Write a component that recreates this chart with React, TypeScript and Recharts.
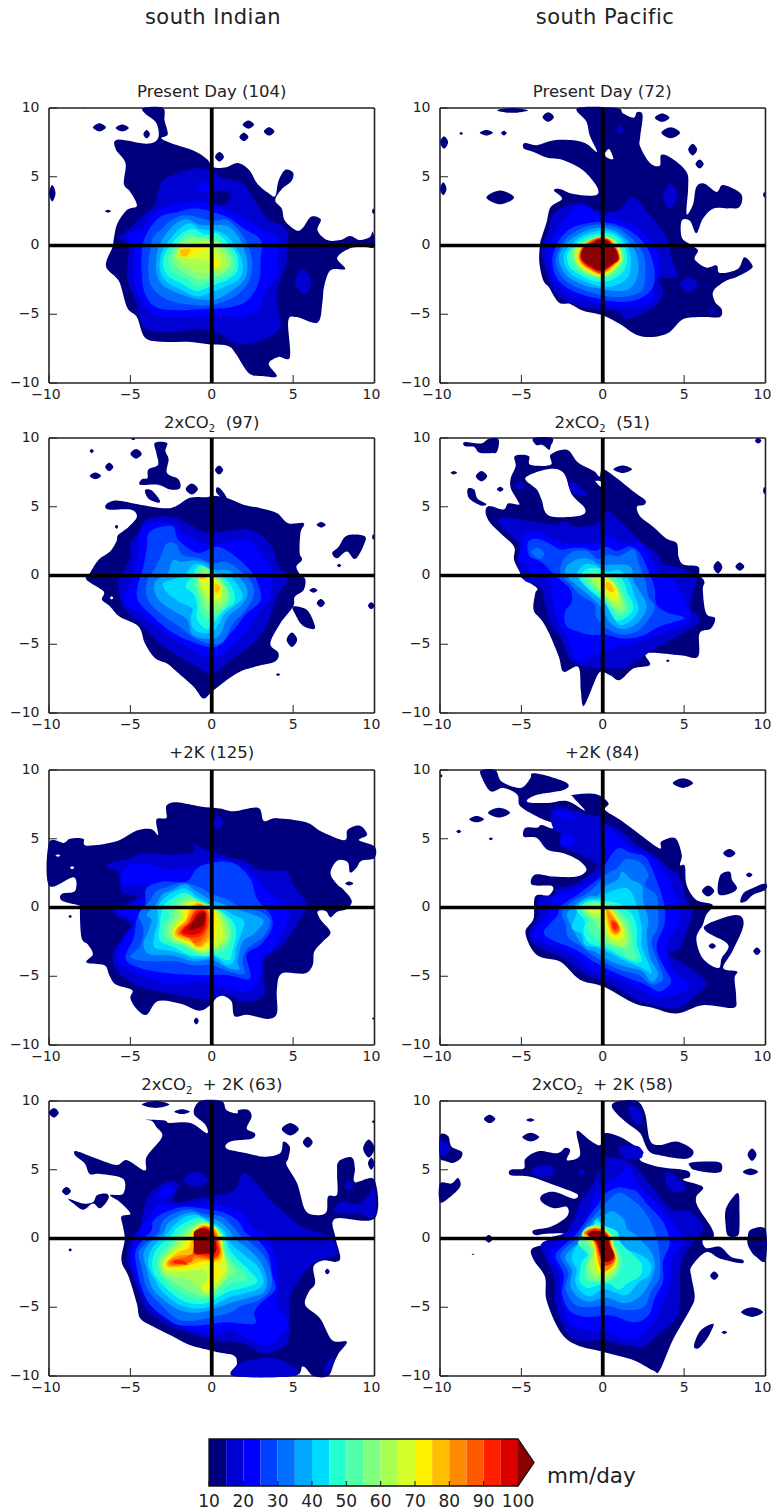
import { ComposedChart, ReferenceArea, Scatter, XAxis, YAxis } from 'recharts';

// one filled contour: [level, outline in storm-relative degrees]
type Contour = [number, number[][]];

// small blob given by its extent
const b = (level: number, x0: number, x1: number, y0: number, y1: number): Contour => [
  level,
  [[(x0 + x1) / 2, y0], [x1, (y0 + y1) / 2], [(x0 + x1) / 2, y1], [x0, (y0 + y1) / 2]],
];

const levels = [10, 15, 20, 25, 30, 35, 40, 45, 50, 55, 60, 65, 70, 75, 80, 85, 90, 95];
const levelColors = [
  '#00007f', '#0000d0', '#0000ff', '#0040ff', '#0070ff', '#00a8ff', '#00dcff', '#25ffd0', '#50ffa8',
  '#80ff80', '#a8ff50', '#d4ff2b', '#fff000', '#ffbf00', '#ff8c00', '#ff5a00', '#ff2000', '#d90000',
];
const overColor = '#8b0000';
const axisTicks = [-10, -5, 0, 5, 10];
const barTicks = [10, 20, 30, 40, 50, 60, 70, 80, 90, 100];
const crossX = [[-10, 0], [10, 0]];
const crossY = [[0, -10], [0, 10]];

const indianPresent: Contour[] = [
  [10, [[-4.2,10],[-3,10],[-2.9,9.1],[-2.7,8.1],[-3.1,7.8],[-2.4,7.4],[-1.1,6.9],[-0.3,6.3],[0.1,5.7],[0.9,5.7],[1.6,6],[2.3,5.5],[2.8,4.5],[3.5,3.8],[3.9,3.6],[4.1,4.7],[4.5,5.5],[5,5.3],[4.9,4.7],[4.3,4.1],[3.9,3.3],[4.3,2.7],[4.5,1.8],[5.2,1.1],[5.6,1.3],[6.1,2.1],[6.7,1.9],[6.5,1.1],[7.1,0.4],[7.9,0.4],[8.5,0.7],[9.1,0.4],[9.7,0.6],[9.9,1],[10,-0.1],[9.3,-0.1],[8.5,-0.2],[7.7,-0.9],[8.2,-1.7],[7.3,-1.8],[6.9,-3],[6.8,-4.1],[6.5,-5.6],[5.2,-5.2],[4.7,-5.5],[4.8,-8.1],[4.1,-8.1],[3.5,-8.6],[4,-9.5],[3.2,-9.5],[2.3,-9.3],[1.5,-7.9],[1,-7.3],[-0.1,-7.2],[-1.5,-7],[-3,-7],[-4.1,-6.7],[-4.6,-5.2],[-5.2,-4.5],[-5.7,-2.6],[-6.5,-1.5],[-6.1,-0.1],[-6,0.6],[-5.8,1.6],[-5.2,2.6],[-4.6,2.9],[-5,3.9],[-5.4,4.5],[-5.3,6],[-5.9,7],[-5.8,7.7],[-4,7.4],[-3.3,7.8],[-3.4,8.9],[-4.1,9.6]]],
  b(10,-7.3,-6.5,8.3,8.9), b(10,-5.9,-5.1,8.3,8.8), b(10,-4.2,-3.8,7.8,8.4), b(10,1.9,2.6,8.5,9.1), b(10,1.7,2.25,7.6,8.2), b(10,3.2,3.85,8,8.6), b(10,0.2,0.75,6.1,6.8), b(10,-10,-9.6,3.2,4.4), b(10,-6.55,-6.2,2.4,2.6), b(10,9.85,10,2.3,2.7), b(10,-8,-7.85,9.95,10),
  [15, [[-1.1,5.6],[-0.1,5.5],[0.7,4.9],[1.9,4.5],[3,2.6],[3.6,1.8],[4.6,1.1],[4.6,-1.1],[4.2,-2.6],[4,-4],[4.2,-6],[3.1,-6.9],[1.9,-7.2],[1.1,-6.9],[0.3,-6.3],[-0.9,-6.1],[-2.6,-6.3],[-4,-6.1],[-4.5,-5],[-4.7,-4],[-5.2,-2.3],[-5.1,-0.1],[-5.7,0.6],[-5,1.3],[-4.1,2.3],[-3.5,3],[-3.1,4.6],[-2.2,5.2]]],
  [10, [[0.2,3.9],[1,3.9],[1.1,3.3],[0.5,2.9],[0,3.2]]],
  [15, [[5.1,-2.6],[5.6,-1.7],[6.1,-2.6],[5.7,-3.6]]],
  b(20,-1,0,3.9,4.6),
  [20, [[-2.2,3],[-0.5,3.2],[0.9,2.6],[1.9,2.1],[3.2,1.1],[4,0.6],[4.1,-0.6],[3.9,-2.3],[3.2,-3.5],[3,-4.5],[1.9,-5.2],[0.3,-5.1],[-0.9,-5.2],[-2.4,-5.3],[-3.6,-5],[-4.4,-3.8],[-4.8,-2.3],[-4.8,-0.4],[-5.2,0.7],[-4.2,1.3],[-3.5,2.4]]],
  [25, [[-3,2.2],[-2.2,2.4],[-0.9,2.7],[0.9,2.1],[1.9,1.3],[3,0.4],[3,-1.1],[2.9,-2.6],[2.2,-4],[1.1,-4.5],[-0.3,-4.6],[-1.9,-4.7],[-3.4,-4.5],[-4.1,-3.5],[-4.3,-2.1],[-4.3,-0.4],[-4.1,0.6],[-3.6,1.6]]],
  [30, [[-3,1.3],[-2.4,1.9],[-1.5,2.2],[0,1.8],[0.9,1.9],[1.6,1.2],[2.2,0.1],[2.5,-1.3],[2.2,-2.8],[1.3,-3.8],[0.1,-4.3],[-1.3,-4.3],[-2.8,-3.9],[-3.7,-3],[-3.9,-1.8],[-3.8,-0.4],[-3.6,0.6]]],
  [35, [[-2.7,1],[-2.2,1.6],[-1.5,1.9],[-0.7,1.5],[0.2,1.5],[1,1.4],[1.6,0.7],[2,-0.3],[2.2,-1.4],[2,-2.5],[1.2,-3.3],[0.3,-3.9],[-0.8,-3.9],[-2,-3.5],[-3,-2.9],[-3.4,-2],[-3.4,-0.9],[-3.2,0.1]]],
  [40, [[-2.4,0.7],[-1.9,1.3],[-1.3,1.6],[-0.7,1.2],[0.2,1.1],[0.8,0.8],[1.3,0.2],[1.8,-0.9],[1.9,-1.8],[1.6,-2.5],[0.8,-3],[0,-3.4],[-0.9,-3.7],[-1.9,-3.2],[-2.8,-2.6],[-3.2,-1.7],[-3.1,-0.6],[-2.8,0.1]]],
  [45, [[-2.2,0.5],[-1.7,1],[-1.1,1.2],[-0.4,0.8],[0.3,0.9],[0.9,0.3],[1.5,-0.6],[1.6,-1.7],[1.1,-2.4],[0.3,-2.8],[-0.9,-3.3],[-1.8,-2.8],[-2.7,-2.2],[-3,-1.4],[-2.8,-0.4]]],
  [50, [[-2,0.3],[-1.4,0.9],[-0.8,0.6],[0.2,0.6],[0.8,0],[1.4,-0.9],[1.3,-1.9],[0.6,-2.4],[-0.3,-2.7],[-0.9,-3],[-1.6,-2.4],[-2.4,-1.9],[-2.7,-1],[-2.4,-0.2]]],
  [55, [[-1.9,0.2],[-1.2,0.6],[-0.3,0.5],[0.4,0.2],[1,-0.5],[1.2,-1.3],[0.7,-2],[0,-2.3],[-0.7,-2.5],[-1.5,-2.1],[-2.2,-1.5],[-2.4,-0.8]]],
  [60, [[-1.7,0.1],[-1,0.3],[-0.2,0.3],[0.4,-0.1],[0.9,-0.9],[0.8,-1.7],[0,-1.9],[-0.7,-2],[-1.4,-1.6],[-2.1,-1.1],[-2.2,-0.5]]],
  [65, [[-1.6,0],[-0.7,0.1],[-0.1,0.2],[0.3,-0.5],[0.6,-1.2],[0.2,-1.7],[-0.3,-1.1],[-1,-1],[-1.8,-0.9],[-2,-0.5]]],
  [70, [[-1.8,-0.1],[-1,-0.1],[-0.4,0.2],[-0.1,-0.1],[-1,-0.6],[-1.7,-0.9],[-2,-0.5]]],
  [70, [[0.1,-1.1],[0.5,-1.2],[0.3,-1.6],[0,-1.6]]],
  [75, [[-1.9,-0.3],[-1.3,-0.3],[-1.6,-0.8],[-1.9,-0.7]]],
  [75, [[-0.7,0.05],[-0.3,0.15],[-0.1,-0.05],[-0.5,-0.1]]],
];

const pacificPresent: Contour[] = [
  [10, [[-1.55,10],[0.85,10],[1.25,9.6],[1.9,9.3],[2.1,9.7],[2.45,9.5],[2.3,7.9],[2.3,7.2],[2.9,6],[3.5,5.8],[3.6,6.6],[4.3,6.3],[5.15,5.35],[5.25,4.25],[5.15,2.3],[5.55,3],[5.75,4.25],[6.25,4.5],[7,3.9],[7.4,4.4],[8.5,3.75],[8.4,2.8],[7.7,2.7],[6.8,2.7],[6.15,1.95],[5.75,0.9],[5.35,1.8],[4.85,1.8],[4.85,0.6],[5.35,0.1],[5.85,-0.35],[5.65,-1],[6.35,-1.6],[7,-1.45],[7.2,-2],[8.3,-1.7],[8.7,-0.85],[9.2,-1.45],[9,-1.8],[8.2,-2.3],[7.6,-2.55],[6.8,-3.3],[6.9,-4.1],[7.3,-4.6],[7.2,-5.2],[6.15,-5.2],[4.95,-5.35],[4.1,-6.3],[3.1,-6.65],[2.1,-6.5],[1.05,-5.7],[0.05,-5.1],[-1.2,-4.75],[-2,-4.25],[-2.7,-4.15],[-3.3,-3.05],[-3.65,-2.55],[-3.9,-1.2],[-3.85,0.1],[-3.75,0.6],[-3.45,1.7],[-3.2,2.8],[-2.5,3.4],[-3,4],[-2.6,4.1],[-1.8,3.75],[-0.45,3.65],[-0.35,4.25],[-1.2,5.45],[-2.4,6.2],[-3.45,6.4],[-4.25,6.8],[-4.85,7.05],[-4.8,7.45],[-4.05,7.3],[-3,7.65],[-1.8,7.65],[-1,7.4],[-0.35,6.8],[-0.8,8],[-1,9]]],
  [0, [[0.15,6.7],[0.4,7],[0.65,6.3],[0.25,6.4]]],
  b(10,-6.5,-4.6,9.65,10), b(10,-3.7,-3,9,9.7), b(10,3.2,4.1,9,9.6), b(10,3.6,4.75,7.8,8.6), b(10,5.25,5.8,6.55,7.4), b(10,5.7,6.2,5.6,6.25), b(10,-7.55,-6.75,8,8.4), b(10,-6.25,-5.9,8,8.35), b(10,-8.8,-8.6,8.05,8.25), b(10,-10,-9.5,7.05,7.95), b(10,-10,-9.6,3.65,4.6), b(10,-7.15,-5.45,3,4), b(10,9.85,10,3.5,3.9),
  b(15,3.7,4.6,2.7,4.5), b(15,0.85,1.25,8.1,8.7), b(15,4.75,5.85,-3.4,-2.3), b(15,6.5,6.9,-5,-4.6),
  [15, [[-2.7,2.65],[-1.4,3.15],[-0.55,2.65],[0.25,2.4],[1.05,2.65],[1.9,3.5],[2.7,2.45],[3.5,1.35],[4,0.35],[4.2,-0.85],[4.55,-2.3],[3.5,-2.4],[3.7,-3.5],[3.1,-4.5],[1.55,-5.35],[0.85,-4.75],[-0.35,-4.6],[-1.4,-4.4],[-2.4,-3.9],[-3.1,-3.05],[-3.55,-1.6],[-3.75,-0.1],[-3.3,1.1],[-3.2,1.8]]],
  [20, [[-2.8,1.1],[-2.2,2.05],[-1.4,2.9],[-0.35,2.3],[0.85,1.95],[1.9,1.45],[2.7,0.6],[3.3,-0.35],[3.5,-1.8],[3.1,-3],[3.1,-4],[1.9,-4.5],[0.45,-4.4],[-1,-4],[-2.2,-3.5],[-3,-2.55],[-3.3,-1.35],[-3.3,0.1]]],
  [25, [[-2.5,0.7],[-1.9,1.3],[-1,1.6],[-0.1,1.7],[0.9,1.5],[1.9,0.9],[2.6,0.1],[3,-0.9],[3.2,-2.1],[3,-3.2],[2.2,-3.9],[1.1,-4.1],[-0.1,-3.9],[-1.2,-3.6],[-2.3,-3],[-2.9,-2.2],[-3.1,-1.1],[-2.9,-0.1]]],
  [30, [[-2.4,0.3],[-1.7,1],[-0.9,1.4],[0,1.5],[0.9,1.3],[1.7,0.6],[2.3,-0.2],[2.6,-1.1],[2.6,-2.3],[2.4,-3.3],[1.4,-3.7],[0.3,-3.7],[-1,-3.3],[-2,-2.8],[-2.6,-2.1],[-2.9,-1]]],
  [35, [[-2.3,0.1],[-1.5,0.8],[-0.7,1.2],[0.1,1.3],[0.9,1],[1.5,0.4],[2,-0.4],[2.2,-1.3],[2.1,-2.4],[1.6,-3.2],[0.7,-3.3],[-0.3,-3.1],[-1.1,-2.9],[-2,-2.4],[-2.5,-1.7],[-2.7,-0.8]]],
  [40, [[-2.1,-0.1],[-1.4,0.6],[-0.6,1],[0.2,1.1],[0.9,0.8],[1.4,0.2],[1.7,-0.7],[1.7,-1.7],[1.5,-2.4],[0.8,-2.9],[0,-3],[-0.9,-2.7],[-1.8,-2.2],[-2.3,-1.5],[-2.4,-0.7]]],
  [45, [[-1.9,-0.1],[-1.2,0.5],[-0.5,0.8],[0.3,0.9],[0.9,0.6],[1.3,0],[1.5,-0.8],[1.4,-1.6],[1,-2.2],[0.3,-2.6],[-0.5,-2.6],[-1.3,-2.2],[-2,-1.6],[-2.2,-0.8]]],
  [50, [[-1.7,-0.1],[-1.1,0.4],[-0.4,0.7],[0.3,0.7],[0.8,0.4],[1.2,-0.2],[1.3,-1],[1.1,-1.7],[0.6,-2.2],[0,-2.4],[-0.7,-2.3],[-1.4,-1.9],[-1.9,-1.3],[-2,-0.6]]],
  [60, [[-1.6,-0.1],[-1,0.3],[-0.3,0.6],[0.3,0.6],[0.8,0.3],[1.1,-0.3],[1.2,-1],[0.9,-1.6],[0.4,-2.1],[-0.1,-2.3],[-0.8,-2.1],[-1.4,-1.7],[-1.7,-1.1],[-1.8,-0.5]]],
  [70, [[-1.4,-0.1],[-0.8,0.3],[-0.2,0.5],[0.4,0.5],[0.7,0.2],[1,-0.4],[1.1,-1],[0.8,-1.5],[0.3,-2],[-0.2,-2.2],[-0.8,-1.9],[-1.3,-1.5],[-1.6,-0.9]]],
  [80, [[-1.3,-0.1],[-0.8,0.35],[-0.2,0.6],[0.35,0.5],[0.7,0.15],[0.95,-0.4],[1.05,-1],[0.75,-1.4],[0.25,-1.9],[-0.2,-2.1],[-0.75,-1.8],[-1.25,-1.4],[-1.5,-0.85]]],
  [90, [[-1.2,-0.1],[-0.7,0.3],[-0.2,0.55],[0.3,0.45],[0.6,0.1],[0.9,-0.4],[1,-1],[0.7,-1.35],[0.2,-1.8],[-0.2,-2],[-0.7,-1.7],[-1.2,-1.3],[-1.4,-0.8]]],
  [100, [[-1.15,-0.1],[-0.6,0.2],[-0.2,0.45],[0.3,0.35],[0.55,0.05],[0.85,-0.4],[0.95,-1],[0.65,-1.3],[0.15,-1.7],[-0.2,-1.85],[-0.65,-1.6],[-1.15,-1.2],[-1.35,-0.7]]],
];

const indianCo2: Contour[] = [
  [10, [[-1.35,5.65],[-0.3,5.7],[0.1,5.8],[0.9,5.65],[1.95,5.15],[3,4.9],[4,4.55],[4.7,3.8],[5.65,3.8],[5.45,3.1],[5.4,1.65],[5.55,1.15],[5.2,0.65],[5.45,0.05],[5.75,-0.3],[5.65,-1.05],[5.1,-1.55],[5,-2.25],[4.2,-3.5],[3.6,-4.95],[4.1,-5.65],[3.9,-6.25],[2.75,-6.6],[1.55,-7.1],[0.1,-8.35],[-0.5,-8.95],[-1.1,-8.1],[-2.15,-7],[-2.75,-6.4],[-3.5,-6],[-4.1,-4.95],[-4.5,-3.7],[-5.65,-3],[-6.25,-2.25],[-6.75,-1.75],[-6.65,-1.15],[-7.7,-0.3],[-7.5,0.15],[-6.95,1.15],[-6.25,1.75],[-5.85,2.5],[-5.75,2.95],[-5.1,3.55],[-4.6,4.3],[-5,4.8],[-6.35,4.8],[-6.5,5.15],[-5.85,5.45],[-4.4,5.15],[-2.55,4.9]]],
  b(0,-6.25,-6.05,-1.75,-1.5),
  b(10,-7.5,-7.25,8.9,9.2), b(10,-5,-4.3,8.5,9.2), b(10,-6.55,-6.05,7.6,8.2), b(10,-7.5,-6.8,7,7.5), b(10,-4.95,-4.7,9.85,10),
  [10, [[-3.5,9.65],[-2.75,9.65],[-2.85,9.05],[-2.65,8.45],[-2.75,7.45],[-2.05,7],[-1.95,6.35],[-2.55,6.25],[-3.3,6.6],[-4.4,6.6],[-4.3,7],[-3.95,7.1],[-3.9,7.7],[-3.3,8.05],[-3.4,8.9]]],
  b(10,-1.6,-0.85,5.9,6.7),
  [10, [[-4.1,6.2],[-3.7,6.2],[-3.2,5.5],[-3.3,5.3],[-3.9,5.6]]],
  b(10,0.2,0.7,7.35,8),
  [10, [[0.3,6.4],[0.55,6.3],[0.9,5.7],[0.7,5.6],[0.3,6]]],
  b(10,-5.95,-5.75,3.4,3.7), b(10,6.45,7,3.5,3.9),
  [10, [[7.4,1.65],[7.8,2.1],[8.3,2.9],[9.4,2.85],[9.3,2.1],[8.8,1.2],[8.3,1.75],[7.7,1.25]]],
  b(10,9.85,10,2.6,3), b(10,7.7,7.95,0.6,0.85), b(10,6.45,6.95,-2.3,-1.7), b(10,6,6.5,-1.25,-0.9), b(10,9.6,10,-2.45,-1.95),
  [10, [[5,-2.25],[5.85,-2.5],[6.3,-3.5],[6.25,-3.9],[5.55,-3.6],[5.1,-2.75]]],
  b(10,4.6,5.25,-5.2,-4.15), b(10,3.95,4.2,-7.3,-7.1),
  [15, [[-4,4.05],[-2.55,4.3],[-1.35,3.7],[-0.3,3.1],[0.9,3.2],[2.35,3.35],[3.6,2.25],[4.1,0.65],[4.6,0.15],[4.6,-0.55],[4.1,-1.3],[3.4,-3.5],[2.55,-4.95],[1.15,-6.15],[0.1,-7.1],[-0.9,-6.65],[-2.15,-5.8],[-3.2,-4.95],[-4.2,-3.7],[-5.45,-2.25],[-5.75,-0.45],[-5.45,0.15],[-5,1.4],[-5,2.35],[-4.5,3.1]]],
  [20, [[-4.1,3.7],[-2.55,3.8],[-1.55,2.95],[-0.3,2.25],[1.15,2.5],[2.15,2.6],[3,1.65],[3.7,0.4],[3.6,-1.55],[3,-2.5],[2.35,-3.7],[1.15,-5.2],[0.1,-6],[-1.15,-5.4],[-2.55,-4.45],[-3.4,-3.7],[-4.4,-2.75],[-5.45,-1.8],[-4.9,-0.3],[-4.6,1.4],[-4.5,2.6]]],
  [25, [[-3.8,3.2],[-2.45,3.6],[-2.05,2.6],[-0.9,1.65],[0.3,2.1],[1.15,1.65],[2.15,0.65],[2.75,-0.3],[3,-1.8],[2.15,-2.75],[1.35,-3.95],[0.3,-5.2],[-0.9,-4.95],[-2.35,-4.2],[-3.6,-3],[-4.6,-1.55],[-4.2,0.65],[-4,1.9]]],
  [30, [[-3.5,0.5],[-3.1,1.5],[-2.8,2.3],[-2.2,2.3],[-1.8,1.5],[-0.9,1.3],[0.1,0.9],[0.9,1],[1.6,0.5],[2.4,-0.4],[2.6,-1.4],[2.1,-2.5],[1.3,-3.5],[0.7,-4.8],[0,-5],[-1,-4.6],[-2,-3.7],[-2.9,-3],[-3.9,-1.8],[-4,-0.5]]],
  [35, [[-2.7,0.2],[-2.4,1.1],[-1.8,1],[-1,1.1],[-0.3,0.9],[0.2,0.4],[1,0.4],[1.9,-0.4],[2.2,-1.3],[1.8,-2.2],[1,-3],[0.5,-4.3],[-0.2,-4.6],[-1.2,-4.3],[-1.5,-3.2],[-2.3,-2.6],[-3.3,-1.7],[-3.5,-0.5]]],
  [40, [[-1.7,0],[-1.1,0.8],[-0.4,0.7],[0.2,0.2],[1,0],[1.6,-0.7],[1.9,-1.6],[1.3,-2.3],[0.7,-2.9],[0.2,-3.9],[-0.4,-4.2],[-1.1,-3.9],[-1.3,-3.1],[-1.2,-2.4],[-2,-1.9],[-2.7,-1.3],[-3,-0.6],[-2.2,-0.2]]],
  [45, [[-1.2,0],[-0.8,0.7],[-0.2,0.5],[0.2,0],[0.9,-0.3],[1.3,-1],[1.4,-1.9],[0.8,-2.5],[0.2,-3.3],[-0.3,-3.9],[-0.9,-3.2],[-0.9,-2.2],[-1.1,-1.4],[-1.6,-0.8]]],
  [50, [[-1,0.1],[-0.6,0.6],[-0.1,0.4],[0.2,-0.1],[0.8,-0.6],[1.1,-1.4],[1,-2.1],[0.4,-2.8],[-0.2,-3.2],[-0.7,-2.6],[-0.8,-1.6],[-1.1,-0.6]]],
  [55, [[-0.8,0.1],[-0.4,0.5],[0,0.1],[0.6,-0.3],[1,-1.2],[0.9,-1.9],[0.4,-2.5],[-0.2,-2.6],[-0.6,-1.9],[-0.9,-0.8]]],
  [60, [[-0.7,0],[-0.3,0.3],[0.1,-0.1],[0.6,-0.5],[0.8,-1.4],[0.5,-2.1],[-0.1,-2.1],[-0.5,-1.4],[-0.8,-0.5]]],
  [65, [[-0.6,0],[-0.2,0.1],[0.3,-0.3],[0.6,-1.1],[0.5,-1.7],[0,-1.7],[-0.4,-1.2],[-0.7,-0.4]]],
  [70, [[-0.7,0],[-0.3,0.1],[-0.3,-0.3],[-0.7,-0.4]]],
  [70, [[0.2,-0.4],[0.5,-0.8],[0.5,-1.3],[0.2,-1.3]]],
  [75, [[0.2,-0.6],[0.5,-0.8],[0.4,-1.2],[0.2,-1.2]]],
  [75, [[-0.7,0],[-0.4,0.05],[-0.4,-0.2],[-0.7,-0.25]]],
];

const pacificCo2: Contour[] = [
  [10, [[0,7.75],[0.85,7.1],[1.9,6.1],[2.6,5.5],[2.55,5.15],[2.1,5],[2.3,4.3],[3.1,3.55],[3.9,2.7],[4.55,2.35],[4.65,1.4],[4.95,0.8],[5.85,0.65],[5.95,0.05],[6.25,-0.45],[6.15,-1.05],[6.35,-2.75],[6.9,-3.1],[6.65,-3.85],[5.95,-4.2],[5.85,-5.9],[4.75,-5.8],[2.7,-5.65],[2.9,-6.5],[1.9,-6.75],[1.05,-7.6],[0.45,-7.25],[-0.15,-7],[-0.55,-7.85],[-0.8,-8.6],[-1.2,-9.5],[-1.35,-8.35],[-1.5,-6.65],[-2.4,-7],[-2.7,-5.9],[-3.3,-4.2],[-3.75,-3.25],[-4.25,-2.5],[-4.15,-1.3],[-4.05,-0.9],[-4.95,-0.2],[-5.05,0.15],[-5.45,1.15],[-5.45,2.1],[-6.3,3.1],[-6.9,3.8],[-7.2,4.55],[-7,5.05],[-6.1,4.8],[-5.8,5.25],[-5.15,5.15],[-5.25,5.5],[-5.65,6.35],[-5.65,7.1],[-5.35,7.95],[-5.4,8.7],[-4.55,8.7],[-4.45,8.05],[-3.2,8.05],[-3.2,8.8],[-2.2,9.15],[-1.5,8.2],[-0.55,7.6],[-0.2,7.2]]],
  [0, [[-4.75,7.1],[-3.3,7.75],[-2.4,7.45],[-1.9,5.9],[-1.1,4.9],[-1.4,4.35],[-3.3,4.35],[-3.75,5.5],[-4.05,6.25]]],
  [0, [[-0.45,6.85],[-0.05,6.4],[-0.05,6.8]]],
  [10, [[-8.5,9.7],[-7.5,9.6],[-7,9.95],[-6.4,9.9],[-6.5,9],[-6.9,8.9],[-7.6,8.95],[-7.9,9.35],[-8.45,9.4]]],
  [10, [[-4.25,10],[-3.1,10],[-3.2,9.4],[-3.3,9.15],[-3.7,9.5],[-4.1,9.5]]],
  b(10,-9.35,-8.95,7.35,7.6), b(10,-7.8,-7.1,6.85,7.6), b(10,-6.5,-6.1,6.1,6.45),
  [10, [[-8.3,6.3],[-7.9,6.25],[-7.7,5.6],[-7.15,5.2],[-7.5,5.1],[-8.2,5.6]]],
  b(10,0.65,1.8,7.45,8), b(10,9.35,9.75,9.6,10), b(10,9.85,10,5.9,6.45), b(10,6.8,7.35,0.15,1.05), b(10,8.15,8.7,0.35,0.95), b(10,3.9,4.1,-6.3,-6.1),
  b(15,-5.35,-4.85,6.25,6.85),
  [15, [[-2.1,6.7],[-1.6,6.7],[-0.9,5.9],[-1.3,5.8],[-1.9,6.1]]],
  [15, [[-6.4,3.8],[-6.1,4.2],[-4.45,3.95],[-3,3.7],[-2.4,3.95],[-1.6,3.55],[-0.35,3.8],[0.25,4.65],[1.05,3.95],[2.3,2.5],[3.3,1.65],[3.7,0.9],[5.15,0.4],[5.75,-0.2],[5.45,-1.75],[5.45,-2.5],[5.95,-3],[5.75,-3.6],[4.55,-4.45],[3.1,-5.4],[1.45,-6.65],[0.25,-6.75],[-1,-6.65],[-2,-6.15],[-2.6,-4.45],[-3.2,-3.5],[-3.55,-2],[-3.85,-0.8],[-4.85,-0.3],[-5.25,1.15],[-5.05,2.1],[-5.65,2.95]]],
  [20, [[-4.85,2.95],[-4.05,3.2],[-3,2.6],[-2,2.35],[-0.55,2.35],[0.25,2.95],[1.25,2.35],[2.1,2.5],[2.7,1.85],[3.5,0.15],[4.35,-0.3],[5.15,-2],[5.35,-3.25],[4.3,-3.85],[3.1,-4.45],[1.9,-4.95],[0.25,-5.4],[-0.8,-6],[-1.6,-6.15],[-2.2,-4.45],[-2.8,-3.25],[-3.1,-1.8],[-3.3,-0.3],[-4.25,0.15],[-5.05,1.15],[-5.05,2.1]]],
  [25, [[-4.6,2.4],[-4.1,2.7],[-3.4,2.4],[-2.6,1.9],[-1.9,2],[-1.2,2],[-0.5,1.8],[0.2,2.1],[0.9,1.8],[1.7,2.1],[2.3,1.6],[2.9,0.1],[3.2,-1],[3.3,-2.1],[4,-2.7],[5,-3.1],[3.5,-3.7],[2.4,-4.4],[1.3,-4.6],[0.2,-4.3],[-0.8,-4.3],[-2.2,-3.7],[-2.3,-2.6],[-1.9,-1.9],[-2,-1],[-2.6,-0.3],[-3,0.1],[-3.8,1],[-4.5,1.4]]],
  [30, [[-4.4,1.7],[-4,2],[-3.6,1.6],[-3.9,1.2]]],
  [30, [[-2.6,0.1],[-2.5,1],[-1.9,1.7],[-1,1.8],[-0.3,1.2],[0.3,1.5],[1,1.4],[1.9,1.9],[2.2,0.9],[2.6,-0.3],[2.8,-1.5],[3.2,-2.3],[2.8,-3.2],[2.2,-4],[1.3,-4.3],[0.3,-3.9],[-0.4,-3],[-0.5,-2.1],[-1.4,-1.4],[-2.1,-0.5]]],
  [35, [[-2.3,0.1],[-2.2,0.7],[-1.5,1.2],[-0.8,1.2],[-0.2,0.8],[0.5,0.8],[1.3,0.8],[1.8,0.5],[1.9,-0.4],[2.4,-1.4],[2.7,-2.3],[2.2,-3.4],[1.3,-3.9],[0.5,-3.5],[0,-2.5],[-0.4,-1.9],[-1.2,-1.1],[-1.8,-0.5]]],
  [40, [[-1.6,0],[-1.1,0.8],[-0.4,0.7],[0.2,0.3],[1,0.4],[1.6,-0.3],[1.9,-1.3],[2.2,-2.4],[1.8,-3.2],[1.1,-3.6],[0.6,-3],[0.2,-2.1],[-0.3,-1.6],[-0.9,-1]]],
  [45, [[-1.4,-0.1],[-0.9,0.5],[-0.2,0.5],[0.2,0.1],[0.9,0.1],[1.3,-0.5],[1.5,-1.2],[1.9,-2.3],[1.5,-3],[0.9,-3.3],[0.5,-2.7],[0.1,-1.9],[-0.4,-1.4],[-1,-0.8]]],
  [50, [[-1.2,-0.2],[-0.6,0.3],[0.1,0],[0.7,-0.1],[1.1,-0.8],[1.4,-1.7],[1.6,-2.4],[1.2,-2.9],[0.8,-2.8],[0.3,-2],[-0.3,-1.3],[-0.8,-0.7]]],
  [55, [[-0.9,-0.2],[-0.3,0.1],[0.3,-0.2],[0.8,-0.7],[1.1,-1.5],[1.4,-2.3],[1.1,-2.7],[0.6,-2.3],[0.2,-1.7],[-0.3,-1]]],
  [60, [[-0.7,-0.3],[-0.1,-0.1],[0.4,-0.2],[0.9,-0.9],[1.2,-1.9],[0.9,-2.3],[0.5,-1.9],[0,-1.4],[-0.3,-0.9]]],
  [65, [[-0.2,-0.2],[0.3,-0.2],[0.8,-0.8],[1,-1.6],[0.7,-1.9],[0.3,-1.6],[-0.1,-1]]],
  [70, [[0.1,-0.4],[0.5,-0.5],[0.8,-1],[0.8,-1.4],[0.5,-1.4],[0.2,-1]]],
  [75, [[0.2,-0.5],[0.5,-0.6],[0.7,-1.1],[0.5,-1.2],[0.2,-0.9]]],
];

const indianWarm: Contour[] = [
  [10, [[-2.75,7.45],[-2.15,7.65],[-0.7,7.35],[0.5,7.2],[1.35,7],[2.85,7.25],[3.2,6.3],[4,6.5],[5.8,6.2],[6.7,5.55],[8.15,4.9],[8.35,5.65],[9.1,5.95],[9.55,5.3],[9.05,4.9],[10,4.45],[10,3.6],[9.2,3.4],[8.9,2.9],[8.5,2.55],[8.35,3.3],[7.7,3.4],[7.3,2.5],[7.7,1.7],[8.1,1.3],[8.6,0.5],[8.3,-0.1],[7.7,-0.3],[7.3,-0.7],[7,-0.25],[6.5,-0.3],[6.7,-0.9],[7.3,-1.8],[6.8,-2.5],[6.3,-3.2],[6.2,-4.2],[5.7,-4.8],[4.3,-4.8],[4,-6],[4,-7.7],[3.4,-8.1],[2.2,-7.8],[1.4,-7.9],[1.2,-6.8],[0.5,-6.4],[-0.1,-7.1],[-0.8,-7.5],[-1.9,-7],[-3.3,-6.8],[-4,-7.8],[-4.6,-7.4],[-5,-6.6],[-4.9,-6],[-5.9,-5.6],[-6.3,-4.9],[-6.6,-4.2],[-7.7,-4],[-7.3,-3.4],[-7.6,-2.7],[-8,-2.2],[-8.1,-0.2],[-8,0.1],[-9.2,0.5],[-9.2,1],[-8.4,1.2],[-8.5,2.2],[-10,1.6],[-10,4.7],[-9.1,4.7],[-8.7,5],[-7.9,5],[-7.7,4.5],[-5.9,4.8],[-4.6,5.6],[-3.7,5.7],[-3.3,5.3],[-3.4,6.4],[-2.8,6.5],[-2.8,7]]],
  b(0,-9.6,-9.3,3.7,3.85), b(0,-8.7,-8.45,2.8,3),
  b(10,8.2,8.7,1.6,1.9), b(10,-1.1,-0.8,-8.5,-8), b(10,-8.8,-8.6,-0.75,-0.55), b(10,9.85,10,-8.15,-8),
  [15, [[-6.45,3.1],[-5,3.6],[-4.2,3.95],[-2.55,3.85],[-1.1,4.05],[-1.1,4.6],[-0.3,4.2],[1.15,3.6],[2.15,3.35],[3,2.75],[4.6,2.6],[5,1.65],[5.85,0.2],[5.45,-0.8],[4.4,-2.7],[3.2,-3.95],[3.2,-6.35],[1.95,-6.85],[0.9,-6.35],[-0.1,-6.7],[-1.1,-6.6],[-2.55,-6.25],[-4.2,-5.85],[-5,-5.4],[-5.95,-4.4],[-5.95,-2.95],[-4.8,-1.5],[-6.05,-0.3],[-4.6,0.7],[-5.55,1.15],[-5.65,2.4]]],
  b(15,0.1,0.7,5.65,6.7),
  [20, [[-5,3.1],[-4.2,3.2],[-3.3,3],[-2.55,2.75],[-0.9,3],[0.3,3.6],[1.55,3.2],[2.75,2.15],[3.7,0.9],[4.7,-0.05],[4.6,-1.25],[3.8,-2.95],[3.05,-3.7],[3,-4.9],[2.35,-6.1],[0.9,-5.85],[-0.9,-5.4],[-2.55,-5.6],[-4,-5.1],[-5.2,-4.4],[-5.85,-3.7],[-5.45,-2.2],[-4.8,-1],[-5.65,-0.3],[-4.2,0.7],[-4,1.65],[-5.45,1.65],[-5.55,2.4]]],
  [25, [[-4,1.4],[-3,1.9],[-1.55,1.9],[-0.7,3],[1.15,3.3],[2.35,2.15],[2.75,0.7],[3.6,-0.5],[3.7,-1.5],[3,-2.7],[2.15,-3.45],[2.35,-5.15],[0.9,-4.9],[-0.9,-4.9],[-2.55,-4.8],[-4.4,-4.4],[-5.3,-3.7],[-4.8,-2.2],[-4.6,-0.8],[-4.1,0.2]]],
  [30, [[-3.8,0.5],[-3.4,1.2],[-2.7,1.5],[-1.8,1.8],[-0.8,1.5],[0,1],[0.9,0.6],[1.7,0.1],[3,-0.3],[3.6,-1],[3.2,-2.1],[2.2,-3],[1.9,-3.9],[2,-4.8],[1.2,-4.7],[0,-4.2],[-1.1,-4.2],[-2.3,-3.9],[-4,-3.9],[-5,-3.6],[-4.4,-2.8],[-4.2,-1.5],[-4.5,-0.6],[-4.2,0]]],
  [35, [[-3.4,0.3],[-3,1],[-2.4,1.3],[-1.6,1.7],[-1,1.2],[-0.1,0.6],[0.6,0.3],[1.5,-0.1],[2.5,-0.5],[3.2,-1],[2.6,-1.9],[1.9,-2.5],[1.6,-3.9],[1.7,-4.5],[1,-4.4],[0,-3.8],[-1.1,-3.9],[-2.4,-3.5],[-3.8,-3.4],[-4.2,-2.7],[-3.9,-1.7],[-3.7,-0.9],[-4,-0.5]]],
  [40, [[-3.3,0.1],[-2.7,0.9],[-1.7,1.4],[-0.9,0.8],[-0.2,0.3],[0.5,0],[1.3,-0.5],[2,-1],[1.8,-1.9],[1.5,-2.9],[1.4,-3.8],[0.9,-4.2],[0.2,-3.6],[-1,-3.7],[-2.3,-3.2],[-3.5,-2.9],[-3.5,-1.9],[-3.3,-1]]],
  [45, [[-3,0],[-2.4,0.7],[-1.6,1.1],[-0.9,0.6],[-0.1,0.2],[0.5,-0.2],[1.3,-1],[1.5,-1.9],[1.3,-3],[1.1,-3.8],[0.6,-3.7],[0,-3.4],[-1.2,-3.5],[-2.3,-2.9],[-3.2,-2.4],[-3.2,-1.4]]],
  [50, [[-2.7,-0.1],[-2.2,0.5],[-1.5,0.9],[-0.8,0.5],[-0.1,0.1],[0.4,-0.2],[1.1,-1],[1.2,-2],[0.9,-3],[0.2,-3.4],[-0.7,-3.5],[-1.8,-2.8],[-2.8,-2.4],[-3,-1.4],[-2.6,-0.7]]],
  [55, [[-2.3,-0.1],[-1.5,0.7],[-0.8,0.4],[-0.1,0],[0.4,-0.2],[0.9,-1],[1.1,-2.1],[0.7,-2.8],[0.1,-3.1],[-0.7,-3.3],[-1.6,-2.8],[-2.6,-2.3],[-2.7,-1.4],[-2.3,-0.6]]],
  [60, [[-2.1,-0.1],[-1.4,0.5],[-0.7,0.3],[0,-0.1],[0.4,-0.3],[0.7,-1],[0.9,-2.1],[0.5,-2.8],[0,-3.1],[-0.7,-3.2],[-1.5,-2.7],[-2.4,-2.2],[-2.5,-1.5],[-2,-0.6]]],
  [65, [[-1.9,-0.1],[-1.2,0.4],[-0.5,0.2],[0.1,-0.2],[0.4,-0.6],[0.6,-1.3],[0.7,-2.1],[0.4,-2.6],[-0.1,-3],[-0.7,-3.1],[-1.4,-2.7],[-2.3,-2.1],[-2.3,-1.5],[-1.8,-0.6]]],
  [70, [[-1.5,0],[-1,0.4],[-0.4,0.2],[0.1,-0.2],[0.3,-0.7],[0.3,-1.5],[0.1,-2.4],[-0.3,-2.8],[-0.9,-3],[-1.3,-2.6],[-2.2,-2.2],[-2.3,-1.6],[-1.8,-0.9]]],
  [75, [[-1.3,0],[-0.9,0.35],[-0.4,0.15],[-0.1,-0.2],[0.1,-1],[0,-2],[-0.4,-2.7],[-0.9,-2.9],[-1.3,-2.5],[-2.2,-2.1],[-2.2,-1.6],[-1.6,-0.9]]],
  [80, [[-1.2,-0.1],[-0.8,0.25],[-0.4,0.1],[-0.2,-0.3],[-0.1,-1.2],[-0.3,-2.3],[-0.9,-2.8],[-1.4,-2.3],[-2.1,-2],[-2.1,-1.5],[-1.6,-1]]],
  [85, [[-1.1,-0.3],[-0.9,0.1],[-0.5,0.1],[-0.2,-0.4],[-0.2,-1.3],[-0.5,-2.2],[-1,-2.6],[-1.4,-2.2],[-2,-1.9],[-1.9,-1.5],[-1.5,-1.1]]],
  [90, [[-1.1,-0.4],[-0.7,-0.1],[-0.3,-0.4],[-0.3,-1.3],[-0.6,-2],[-1.2,-2.2],[-1.9,-1.9],[-1.7,-1.4],[-1.4,-1.1]]],
  [95, [[-0.9,-0.4],[-0.4,-0.3],[-0.4,-1.3],[-0.7,-1.8],[-1.2,-2],[-1.8,-1.8],[-1.5,-1.3],[-1.2,-1]]],
  [100, [[-0.8,-0.5],[-0.4,-0.4],[-0.5,-1.2],[-0.9,-1.5],[-1.4,-1.6],[-1.2,-1.1]]],
];

const pacificWarm: Contour[] = [
  [10, [[-1.8,8.2],[-0.45,8.25],[0.35,7.6],[0.15,7.1],[1.05,6.4],[2.3,5.3],[3.5,4.3],[3.6,4.8],[4.45,5.05],[4.85,3.85],[4.75,3.1],[5.05,3],[5.15,1.65],[5.75,0.55],[6.75,0.2],[6.35,-0.55],[6.15,-1.25],[5.75,-2.25],[6.15,-3.7],[7.1,-4.4],[7.3,-3.7],[7.7,-2.7],[6.35,-1.75],[6.45,-1.2],[8.2,-0.55],[8.65,-1.25],[8,-3.1],[7.4,-4.4],[8.25,-4.65],[8.1,-5.15],[8.2,-6.6],[8,-7.3],[6.15,-7.1],[4.55,-7.7],[3.1,-7.3],[1.9,-6.95],[0.05,-5.75],[-1.4,-5.25],[-2.6,-3.95],[-4.05,-3.45],[-4.75,-1.85],[-4.25,-0.8],[-4.15,0.8],[-3.3,0.9],[-3.1,1.55],[-4.35,1.65],[-4.15,2.4],[-3,2.25],[-1.6,2.25],[-1,2.75],[-1.5,3.45],[-2.4,3.95],[-3.4,4.2],[-4.05,5.05],[-4.85,5.15],[-4.75,5.8],[-4.05,5.8],[-3.75,6],[-3.1,5.75],[-3,6.1],[-3.75,6.45],[-5.05,7.35],[-5.25,8.2],[-6.1,8.7],[-6.9,8.45],[-7.5,9.65],[-7.4,10],[-6.6,10],[-6.2,9.15],[-5.05,8.7],[-4.45,9.4],[-4.35,9.75],[-3.65,9.65],[-2.2,9.05],[-2.4,8.55],[-4.05,8.2],[-4.65,7.7],[-3.45,7.6],[-2.2,7.75],[-1.1,7.05],[-1.8,8]]],
  b(10,-7.05,-5.7,6.55,7.25), b(10,-8.2,-7.3,6.2,6.65), b(10,-9,-8.7,5.4,5.65), b(10,-7,-6.75,4.9,5.1), b(10,4.3,5.55,8.7,9.4), b(10,-10,-9.85,9.45,9.7), b(10,7.4,8.15,3.65,4.25), b(10,8.8,9.2,2.2,2.55),
  [10, [[7.1,1],[7.2,2.3],[7.8,2.6],[7.95,2],[8.25,1.4],[7.8,1]]],
  b(10,6.1,6.85,0.8,1.6),
  [10, [[8.45,0.4],[8.65,1.05],[9.2,1.4],[10,1.75],[10,1.3],[9.2,0.9],[8.8,0.45]]],
  b(10,9.25,9.7,-3.45,-2.9), b(10,6.5,6.95,-3,-2.6),
  [15, [[-3.2,6.6],[-2.8,7.35],[-1.2,6.85],[0,6.5],[0.15,6.15],[1.05,5.65],[2.1,4.55],[3.3,3.7],[4.1,2.85],[4.65,2.4],[4.95,1.4],[5.15,0.45],[5.55,-0.3],[5.15,-1.75],[4.75,-2.95],[4.1,-3.45],[5.35,-4.4],[6.35,-5.5],[5.55,-6.6],[4.55,-7.3],[3.1,-7.1],[1.9,-6.6],[0.25,-5.4],[-1,-4.9],[-2.4,-3.7],[-3.85,-2.95],[-4.55,-2],[-3.95,-0.55],[-3.95,0.7],[-3,0.9],[-2.8,1.4],[-1.8,1.65],[-0.8,2.4],[-0.35,3.1],[-1.6,3.95],[-2.6,4.55],[-2.6,5.3],[-3,5.7]]],
  [20, [[-2.45,5.3],[-1.9,5.3],[-1.7,4.7],[-2.2,4.4],[-2.6,4.7]]],
  [20, [[-3.1,7],[-2.4,7],[-1.6,6.6],[-2.2,6.4]]],
  [20, [[0.15,6],[0.85,5.3],[1.9,4.3],[3.1,3.6],[3.9,2.4],[4.35,1.4],[4.55,0.45],[4.75,-1],[3.9,-2.95],[4.35,-4.65],[5.15,-5.4],[5.15,-6],[3.5,-6.6],[2.1,-5.85],[0.85,-5.15],[-0.55,-4.65],[-2.2,-3.2],[-3.85,-2.45],[-4.25,-1.85],[-3.45,-0.55],[-3,0.7],[-1.6,1.4],[-0.15,2.4],[0.15,3.85],[-0.05,5.05]]],
  [25, [[0.2,3.2],[0.9,4.3],[1.7,4],[2.6,3.7],[3,2.9],[3.3,2],[3.6,1],[3.8,0],[3.8,-1.2],[3.3,-2.9],[3.8,-4.4],[4.2,-5.4],[3.5,-6.1],[2.6,-5.6],[1.7,-5.2],[0.5,-4.6],[-0.6,-3.9],[-1.6,-3.1],[-3.2,-2.3],[-3.6,-1.7],[-2.8,-0.6],[-2.6,0.1],[-1.6,0.9],[-0.8,1.6],[0,2.4]]],
  [30, [[0.2,2.4],[0.9,2.9],[1.4,3.5],[2.3,3.3],[2.8,2.4],[2.6,1.6],[3.3,0.9],[3.4,-0.2],[3.4,-1.4],[3,-2.5],[3.4,-4],[3.7,-5.2],[3,-5.6],[2.2,-4.9],[1.2,-4.6],[0.3,-4.1],[-0.6,-3.5],[-1.2,-2.9],[-2.1,-2.2],[-2.3,-1.2],[-2.5,-0.3],[-1.9,0.4],[-1,1],[-0.4,1.6]]],
  [35, [[0.2,1.6],[0.9,2],[1.2,2.6],[1.8,2],[2.4,1.6],[2.5,0.4],[2.8,-0.9],[2.7,-2],[2.9,-3.6],[3.4,-4.8],[3,-5.4],[2.4,-4.6],[1.4,-4.3],[0.3,-3.8],[-0.5,-3.2],[-1,-3],[-1.5,-2.3],[-1.9,-1.4],[-2.2,-0.5],[-1.7,0.2],[-0.9,0.8],[-0.3,0.9]]],
  [40, [[0.2,1],[0.8,1.3],[1.5,1.4],[1.9,0.8],[2.2,-0.4],[2.4,-1.5],[2.4,-2.8],[2.8,-4],[3,-4.8],[2.4,-4.4],[1.4,-3.9],[0.4,-3.3],[-0.4,-2.9],[-1.1,-2.7],[-1.3,-1.9],[-1.9,-1.5],[-1.6,-0.4],[-1.6,0.1],[-0.9,0.6],[-0.2,0.7]]],
  [45, [[0,0.5],[0.7,0.4],[1.3,0.1],[1.9,-0.7],[2.1,-1.6],[2.1,-2.7],[2.4,-3.8],[2,-4],[1.2,-3.6],[0.3,-3],[-0.3,-2.8],[-0.9,-2.5],[-1.2,-1.7],[-1.1,-1],[-1.6,-0.2],[-1.3,0.2],[-0.7,0.5]]],
  [50, [[-1.4,-0.1],[-0.9,0.4],[-0.2,0.4],[0.5,0.2],[1.1,-0.3],[1.6,-1],[1.8,-1.9],[1.9,-2.9],[2.1,-3.7],[1.6,-3.7],[0.9,-3.1],[0.2,-2.7],[-0.5,-2.2],[-0.9,-1.4],[-0.9,-0.8]]],
  [55, [[-1.2,-0.1],[-0.7,0.3],[0,0.3],[0.6,0],[1.1,-0.6],[1.5,-1.3],[1.6,-2.3],[1.5,-3],[0.9,-2.8],[0.2,-2.5],[-0.2,-1.7],[-0.5,-1],[-0.9,-0.6]]],
  [60, [[-1.1,-0.1],[-0.5,0.2],[0.1,0.2],[0.6,-0.2],[1,-0.8],[1.4,-1.5],[1.5,-2.4],[1,-2.8],[0.3,-2.3],[0.1,-1.5],[-0.2,-0.8],[-0.8,-0.5]]],
  [65, [[-0.9,-0.1],[-0.3,0.1],[0.3,0],[0.8,-0.7],[1.2,-1.4],[1.3,-2.2],[0.8,-2.5],[0.3,-2],[0.1,-1.1],[-0.2,-0.5],[-0.7,-0.4]]],
  [70, [[0.1,-0.1],[0.6,-0.3],[1,-1.1],[1.2,-1.8],[0.9,-2.2],[0.4,-1.9],[0.2,-1.1],[0.1,-0.5]]],
  [75, [[0.2,-0.1],[0.5,-0.3],[0.9,-1],[1.1,-1.7],[0.8,-2],[0.5,-1.8],[0.3,-1.1]]],
  [80, [[0.25,-0.2],[0.5,-0.5],[0.9,-1.1],[1.1,-1.6],[0.8,-1.9],[0.55,-1.7],[0.4,-1.1]]],
  [85, [[0.5,-0.9],[0.9,-1.1],[1,-1.6],[0.8,-1.8],[0.55,-1.5]]],
  [90, [[0.6,-1],[0.85,-1.2],[0.9,-1.5],[0.7,-1.6],[0.6,-1.4]]],
];

const indianBoth: Contour[] = [
  [10, [[-0.7,10],[0.6,10],[0.9,9.35],[1.55,9.1],[1.65,9.35],[2.25,9.35],[2.45,8.85],[2.15,8],[2.65,7.65],[2.45,7.25],[1.15,7.05],[0.9,6.55],[2.15,6.2],[3.2,5.95],[4.2,6.2],[4.4,7.05],[4.8,6.65],[4.7,5.8],[4.6,5.35],[5.25,4],[5.75,2.05],[6.5,1.7],[7.05,1.95],[7.15,3.05],[7.7,3.2],[7.7,4.75],[7.8,5.6],[8.6,5.9],[8.8,5.1],[8.8,4.1],[10,4.25],[10,1.45],[7.6,1.45],[7.6,0.1],[7.9,-1.35],[7.6,-1.7],[6.85,-1.6],[6.25,-2.05],[6.35,-3.25],[5.95,-3.9],[5.75,-4.85],[6.65,-5.8],[7.4,-7.4],[8.3,-7.5],[7.8,-8.35],[7.5,-9.1],[7.15,-10],[6.25,-10],[5.6,-9.3],[5,-10],[1.35,-10],[1.55,-9.1],[1.35,-8.5],[0.3,-8.25],[-1.35,-7.75],[-2.35,-7.15],[-3.6,-6.4],[-4.4,-5.8],[-4.6,-4.75],[-5.1,-2.8],[-5.55,-1.6],[-5.35,-0.1],[-5.45,0.85],[-5.55,1.6],[-5,1.8],[-5.65,2.65],[-6.25,3.15],[-5.45,3.25],[-5.45,4.35],[-6.85,4.7],[-7.5,4.7],[-7.8,5.45],[-8.4,6.05],[-8.3,6.35],[-7.05,5.8],[-5.85,5.35],[-5.2,5.7],[-4.1,4.95],[-4,5.95],[-3.05,7.4],[-3.4,8.1],[-3.8,8.6],[-5,8.7],[-3,8.6],[-2.6,8.4],[-1.3,8.4],[-0.3,7.65],[-0.4,8.3],[-1.1,9.1]]],
  b(10,-4.3,-2.6,9.5,10), b(10,-2.3,-1.35,9.05,9.4), b(10,-10,-9.4,8.8,9.5), b(10,4.3,5.35,7.5,8.4), b(10,5.6,6.2,6.6,7.4), b(10,9.3,10,5.9,7.2), b(10,9.6,10,5,5.9), b(10,9.85,10,8.4,8.6), b(10,-9.2,-8.65,3.15,3.75), b(10,-8.8,-8.6,-0.95,-0.7), b(10,6.95,7.25,-2.6,-2.2),
  [10, [[-8.8,2.9],[-7.9,2.55],[-7.3,2.65],[-7.05,3.15],[-6.45,3.25],[-6.35,2.9],[-6.85,2.2],[-7.3,2.55],[-7.9,2.1],[-8.5,2.55]]],
  b(15,-1.75,-0.2,3.75,4.85), b(15,8.2,8.7,3.5,4.2),
  [15, [[7.5,2.1],[8,2.7],[9,2.5],[9.7,3.3],[10,3.5],[10,1.6],[9,1.8],[7.7,1.9]]],
  [15, [[1.5,-10],[1.6,-9.2],[2.6,-8.8],[3.8,-8.7],[5,-9.3],[5,-10]]],
  [15, [[6.9,-9.5],[7.3,-8.7],[7.5,-8.9],[7.1,-9.7]]],
  [15, [[-4.4,0.85],[-4.2,2.05],[-3.8,3.25],[-2.75,4.1],[-2.05,3.9],[-2.35,2.65],[-0.3,3.05],[1.35,3.5],[1.95,4.75],[2.75,4],[3.6,2.8],[5.25,1.1],[6.05,0.6],[7.3,0.1],[7.7,-1.1],[6.25,-1.8],[5.2,-3.3],[4.8,-4.5],[4.8,-6.9],[4.4,-7.9],[3.2,-8.35],[1.95,-7.65],[0.3,-7.4],[-1.35,-6.9],[-2.55,-6.4],[-4,-5.2],[-4.5,-3.75],[-4.9,-2.55],[-5.2,-1.45],[-5,-0.1]]],
  [20, [[-3.3,3.3],[-2.7,3.9],[-2.3,3.6],[-2.6,3.1],[-3.1,3]]],
  [20, [[-3.9,1.5],[-3.3,2.5],[-2.4,2.4],[-1.7,2.4],[-0.5,2.5],[0.8,2.3],[1.8,1.9],[2.5,0.9],[3.4,0.2],[3.8,-0.9],[4,-2],[4.1,-3.4],[4,-4.8],[4.7,-6.3],[3.6,-7.7],[2.4,-7.4],[1.2,-6.6],[0.3,-7],[-1.5,-6.5],[-2.5,-5.8],[-3.6,-5],[-4.4,-3.6],[-4.8,-2.3],[-5,-1.2],[-4.7,-0.1],[-4.4,0.7]]],
  [25, [[-3.7,0.6],[-3.6,1.3],[-2.9,1.9],[-1.8,2.3],[-0.7,2.2],[0.7,1.9],[1.6,1.3],[2.1,0.4],[2.9,-0.2],[3.5,-1.2],[3.7,-2.6],[3.9,-3.7],[3,-4.7],[2.6,-5.4],[2.6,-6.2],[0.7,-6.1],[-0.6,-6.3],[-2,-6.3],[-2.8,-5.8],[-3.8,-4.8],[-4.3,-3.6],[-4.6,-2.2],[-4.7,-1],[-4.3,-0.2]]],
  [30, [[-3.3,0.4],[-3,1.3],[-2.2,1.9],[-1.3,2.1],[-0.5,1.8],[0.6,1.6],[1.2,1],[1.8,0.2],[2.5,-0.4],[3.3,-1.4],[3.7,-2.9],[3.5,-3.9],[2.7,-4.6],[1.8,-4.9],[1.1,-5.4],[0,-5.7],[-1.2,-6],[-2.2,-5.8],[-3.3,-4.6],[-4,-3.6],[-4.3,-2.2],[-4.5,-1],[-4,-0.3]]],
  [35, [[-3,0.4],[-2.7,1.1],[-1.9,1.7],[-1.1,1.9],[-0.5,1.6],[0.4,1.3],[1,0.7],[1.5,-0.1],[2.2,-0.7],[3,-1.7],[3.4,-3],[3.2,-3.9],[2.3,-4.3],[1.4,-4.6],[0.4,-5],[-0.8,-5.4],[-2,-5.2],[-3.1,-4.3],[-3.7,-3.5],[-4,-2.2],[-4.2,-1.1],[-3.7,-0.2]]],
  [40, [[-2.8,0.3],[-2.3,1],[-1.6,1.6],[-0.9,1.7],[-0.4,1.4],[0.3,1],[0.8,0.5],[1.2,-0.4],[1.9,-1.1],[2.8,-2],[3.2,-3.1],[2.8,-3.7],[2,-4],[1,-4.3],[0,-4.9],[-0.9,-5.1],[-2,-4.8],[-3,-3.9],[-3.5,-3],[-3.9,-2],[-3.8,-1],[-3.4,-0.3]]],
  [45, [[-2.6,0.1],[-2.1,0.8],[-1.4,1.3],[-0.8,1.5],[-0.2,1.2],[0.4,0.7],[0.8,0.2],[1,-0.6],[1.5,-1.4],[2.3,-2.3],[2.8,-3.1],[2.2,-3.5],[1.2,-3.8],[0.5,-4.2],[-0.3,-4.7],[-1.3,-4.7],[-2.1,-4.3],[-3,-3.4],[-3.6,-2.4],[-3.6,-1.3],[-3.2,-0.5]]],
  [50, [[-2.4,-0.1],[-1.8,0.6],[-1.2,1.1],[-0.6,1.3],[0.1,1],[0.6,0.4],[0.9,-0.8],[1.2,-1.6],[1.9,-2.4],[2.1,-3],[1.2,-3.3],[0.4,-4],[-0.2,-4.4],[-1.2,-4.3],[-2.2,-3.8],[-2.9,-3],[-3.3,-2.2],[-3.3,-1.4],[-2.8,-0.7]]],
  [55, [[-2.1,-0.1],[-1.6,0.5],[-1,1],[-0.5,1.2],[0.1,0.9],[0.6,0.3],[0.8,-1],[1.1,-1.7],[1.4,-2.4],[0.9,-3],[0.3,-3.7],[-0.3,-4.2],[-1.1,-4],[-2,-3.4],[-2.8,-2.8],[-3.2,-2.1],[-3.1,-1.4],[-2.6,-0.7]]],
  [60, [[-1.9,-0.2],[-1.4,0.4],[-0.8,1],[-0.3,1.1],[0.2,0.8],[0.6,0.2],[0.7,-1],[1,-2],[0.9,-2.8],[0.4,-3.5],[-0.3,-4],[-0.8,-3.6],[-1.4,-3],[-2.2,-2.8],[-3,-2.4],[-3,-1.6],[-2.5,-0.9]]],
  [65, [[-1.7,-0.2],[-1.2,0.3],[-0.7,1],[-0.2,1.05],[0.2,0.7],[0.55,0.1],[0.7,-1],[0.9,-2],[0.7,-2.7],[0.3,-3.3],[-0.3,-3.9],[-0.6,-3.6],[-0.3,-2.9],[-0.5,-2.3],[-1.6,-2.4],[-2.4,-2.4],[-2.9,-2.2],[-2.9,-1.6],[-2.4,-1]]],
  [70, [[-1.5,-0.2],[-1,0.8],[-0.6,1],[-0.1,1],[0.3,0.6],[0.6,-0.5],[0.7,-1.2],[0.6,-1.8],[0.2,-1.9],[-0.3,-1.8],[-0.6,-2],[-1.5,-2.2],[-2.4,-2.2],[-2.9,-2],[-2.8,-1.6],[-2.3,-1],[-1.7,-0.7]]],
  [70, [[0.2,-3],[0.6,-2.4],[0.2,-2],[-0.2,-3],[-0.4,-3.7],[-0.1,-3.5]]],
  [75, [[-1.3,-0.3],[-0.9,0.7],[-0.55,0.95],[-0.1,0.9],[0.3,0.5],[0.6,-0.6],[0.6,-1.4],[0.2,-1.7],[-0.4,-1.6],[-1,-1.8],[-1.7,-2],[-2.6,-2.1],[-2.8,-1.8],[-2.3,-1.2],[-1.9,-0.9],[-1.4,-0.7]]],
  [80, [[-0.95,0.5],[-0.6,0.9],[-0.1,0.8],[0.3,0.4],[0.55,-0.7],[0.5,-1.3],[0.1,-1.6],[-0.4,-1.5],[-1,-1.5],[-1.4,-1.8],[-2.5,-2],[-2.7,-1.7],[-2.2,-1.3],[-1.7,-1.2],[-1.2,-1.1],[-0.9,-0.6]]],
  [85, [[-0.95,0.4],[-0.55,0.85],[-0.1,0.75],[0.25,0.3],[0.5,-0.7],[0.45,-1.2],[0.1,-1.5],[-0.5,-1.4],[-1.1,-1.3],[-1.3,-1.7],[-2.4,-1.9],[-2.5,-1.6],[-1.8,-1.4],[-1.2,-1.1],[-1,-0.5]]],
  [90, [[-1,0.4],[-0.55,0.8],[-0.1,0.7],[0.2,0.2],[0.45,-0.7],[0.4,-1.2],[0.05,-1.4],[-0.5,-1.25],[-1.1,-1.1],[-1.1,-0.5]]],
  [90, [[-2.3,-1.8],[-1.5,-1.9],[-1.8,-1.6],[-2.3,-1.6]]],
  [100, [[-1.05,0.55],[-0.5,0.75],[0,0.4],[0.2,-0.1],[0.3,-0.7],[0.15,-1.1],[-0.3,-1.1],[-1,-1.1],[-1.1,-0.5],[-1.1,0]]],
];

const pacificBoth: Contour[] = [
  [10, [[-1.6,7.8],[-0.8,7.15],[-0.15,6.8],[0.1,7.65],[1.05,7.4],[1.9,6.8],[2.5,6.3],[2.3,5.7],[3.5,5.2],[5.15,4.95],[5.35,4.5],[4.95,4.25],[6.15,3.75],[5.75,3.05],[5.85,2.3],[6.65,0.85],[6.8,0.1],[6.15,-0.1],[6.35,-0.7],[7.2,-0.6],[7.9,-1.35],[8.6,-1.55],[8.5,-1.8],[7.2,-1.45],[6.35,-1],[5.45,-2.05],[5.45,-2.8],[5.65,-4.25],[5.35,-5.2],[4.3,-7.4],[3.5,-9.6],[3.1,-9.6],[1.9,-8.85],[0.05,-8.25],[-1.6,-7.75],[-2.6,-6.8],[-3.45,-4.5],[-3.55,-2.8],[-4.25,-1.55],[-4.35,-0.75],[-3.3,-0.35],[-3.45,0],[-2.4,0.35],[-3.45,0.35],[-4.15,0.25],[-4.25,0.6],[-3.2,0.85],[-2.2,1.6],[-2.2,2.3],[-3,2.2],[-3.75,2.65],[-3.75,3.15],[-3,3.4],[-1.8,2.9],[-1.6,3.25],[-3,3.9],[-4.45,4.5],[-5.65,4.6],[-5.65,5],[-4.85,5.1],[-4.75,5.8],[-3.95,6.35],[-2.8,6.2],[-2.3,6.6],[-2,6.4],[-2.2,5.7],[-1.4,6.05]]],
  [10, [[0.55,9.7],[1.05,10],[2.1,10],[2.6,9.1],[2.9,7.15],[3.5,6.8],[4.55,7.05],[5.55,6.4],[5.15,5.8],[3.5,6.05],[2.8,6.4],[2.3,7.65],[1.55,8.35],[0.85,9.1]]],
  b(10,-7.3,-6.6,8.4,9), b(10,-4.7,-4.2,8.5,8.75), b(10,-4.95,-3.9,7.05,7.7),
  [10, [[-10,7.5],[-9.5,7.45],[-9.3,6.7],[-8.65,6.3],[-8.75,5.8],[-9.2,5.5],[-9.7,5.65],[-10,5.9]]],
  [10, [[-10,4],[-9.3,4],[-8.9,4.4],[-8.75,3.8],[-9.4,3],[-10,2.65]]],
  b(10,-7.25,-6.75,-0.3,0.25), b(10,-8.05,-7.9,-1.2,-1.1), b(10,8.9,9.45,5.65,6.55), b(10,8.6,9.55,4.6,5.1),
  [10, [[5.35,5.5],[6.4,5.6],[7.25,5.5],[7.25,4.85],[6.5,4.8],[5.6,5],[5.4,5.2]]],
  [10, [[7.55,1],[7.55,2.1],[8,3],[8.35,3.25],[8.4,2],[8.4,0.85],[8.3,0.2],[7.7,0.2]]],
  [10, [[8.9,0.05],[9.1,0.65],[10,0.65],[10,-1.6],[9.4,-1.3],[9.1,-0.9],[8.9,-0.4]]],
  b(10,6.6,7.1,-3,-2.4), b(10,8.5,9.85,-5.7,-5),
  [10, [[5.6,-7.8],[6,-6.7],[6.8,-6.2],[6.55,-7],[6.2,-7.6],[5.85,-8]]],
  b(10,7.3,7.65,-6.95,-6.7),
  [15, [[-4.2,5.2],[-3.2,5.3],[-3,4.7],[-3.7,4.5],[-4.3,4.7]]],
  b(15,-1.5,-1.1,4.6,5),
  [15, [[1,6.6],[2.2,6.7],[2.4,5.9],[1.4,5.8]]],
  [15, [[1.6,9.6],[2.3,9.4],[2.4,8.4],[1.9,8.5]]],
  [15, [[4,4.9],[4.9,4],[5.1,3.5],[4.4,3.4],[3.9,4]]],
  [15, [[-10,7.1],[-9.5,6.8],[-9.5,6.2],[-10,6.1]]],
  [15, [[0.05,5.8],[1.05,5.8],[1.9,5.35],[2.5,4.5],[3.3,3.3],[4.3,2.05],[5.15,2.05],[5.75,1.6],[6.15,0.6],[5.15,-0.85],[4.75,-2.3],[4.75,-4.25],[4.55,-5.7],[3.5,-6.9],[2.3,-7.9],[0.05,-7.4],[-1.6,-7.4],[-2.4,-6.4],[-2.9,-4.7],[-3,-2.8],[-3.55,-1.35],[-3.75,-0.35],[-2.4,0.35],[-1.8,1.35],[-1.4,2.55],[-0.35,4.5]]],
  [20, [[0.05,4],[0.85,4.35],[1.65,5.2],[2.1,4],[3.1,2.8],[4.3,1.1],[4.95,-0.1],[4.3,-1.35],[4.1,-3.3],[3.7,-4.5],[3.1,-6.2],[1.9,-7.4],[0.45,-6.9],[-1,-6.65],[-2,-6.2],[-2.6,-4.25],[-2.7,-2.55],[-3.3,-1.35],[-3,-0.6],[-2.2,0.25],[-1.4,0.85],[-0.8,2.05],[-0.55,3.05]]],
  [25, [[0.05,3.2],[0.9,3.7],[1.6,3.6],[2.1,3.4],[2.8,2.4],[3.6,1.4],[4,0.4],[4.1,-0.5],[3.7,-1.7],[3.7,-3.1],[3.2,-4.3],[2.8,-5.6],[1.9,-6.1],[0.5,-5.6],[-0.9,-5.7],[-2,-5.3],[-2.5,-4],[-2.4,-2.6],[-2.9,-1.3],[-2.5,-0.6],[-1.8,0.1],[-1.2,1],[-0.6,2],[-0.2,2.6]]],
  [30, [[0.1,2.5],[0.9,3.3],[1.6,3],[2.4,2.2],[3,1.1],[3.3,0.1],[3.5,-1.2],[3.5,-2.8],[3,-3.8],[2.5,-5],[1.4,-5.2],[0.3,-4.9],[-1,-5],[-1.8,-4.7],[-2.3,-3.6],[-2.1,-2.5],[-2.6,-1.3],[-2.2,-0.6],[-1.6,0],[-1,1],[-0.5,1.7]]],
  [35, [[0.1,1.7],[0.6,2],[1.3,1.4],[1.5,0.7],[2,0.3],[2.5,-0.3],[3,-1],[3.2,-2],[2.9,-3.2],[2.2,-4.3],[1.3,-4.7],[0.2,-4.3],[-0.8,-4.6],[-1.6,-4.2],[-2,-3.4],[-1.9,-2.3],[-2.3,-1.4],[-1.9,-0.7],[-1.3,-0.1],[-0.8,0.9],[-0.4,1.5]]],
  [40, [[0.1,0.9],[0.5,0.6],[0.8,0],[1.3,-0.8],[2,-1],[2.9,-1.7],[2.9,-2.6],[2.2,-3.2],[1.5,-4.1],[0.7,-3.9],[0,-3.7],[-0.8,-4.2],[-1.4,-3.8],[-1.7,-3.1],[-1.6,-2.3],[-1.9,-1.5],[-1.7,-0.7],[-1.2,-0.1],[-0.7,0.7],[-0.4,1.4]]],
  [45, [[-1.1,0],[-0.6,0.9],[-0.3,1.2],[0.2,0.9],[0.9,0.5],[1.1,-0.3],[1.9,-1.2],[2.4,-1.9],[2.3,-2.7],[1.6,-3.2],[1,-3.7],[0.4,-3.3],[-0.3,-3.4],[-0.9,-3.6],[-1.4,-3.2],[-1.4,-2.4],[-1.3,-1.7],[-0.9,-1.1],[-1.3,-0.5]]],
  [50, [[-1.3,0.1],[-0.7,0.7],[-0.3,1],[0.2,0.6],[0.5,0.1],[0.9,-0.7],[1.2,-1.5],[1.1,-2.3],[0.6,-3],[0,-3.2],[-0.6,-3.1],[-1,-3],[-1.1,-2.2],[-0.9,-1.2],[-1.5,-0.4]]],
  [55, [[-1.3,0.2],[-1,0.8],[-0.4,0.95],[0.2,0.7],[0.6,0.2],[0.7,-0.5],[1,-1.4],[0.9,-2.3],[0.4,-3],[-0.2,-3.1],[-0.8,-2.8],[-1,-2],[-0.7,-1.1],[-0.9,-0.4]]],
  [60, [[-1.2,0.2],[-0.9,0.7],[-0.4,0.9],[0.1,0.7],[0.5,0.2],[0.65,-0.5],[0.9,-1.4],[0.8,-2.2],[0.3,-2.8],[-0.1,-2.9],[-0.6,-2.5],[-0.8,-1.8],[-0.6,-1],[-0.8,-0.3]]],
  [70, [[-1.2,0.3],[-0.9,0.65],[-0.4,0.85],[0.1,0.65],[0.45,0.2],[0.6,-0.5],[0.85,-1.4],[0.7,-2.1],[0.2,-2.6],[-0.1,-2.7],[-0.35,-2.2],[-0.5,-1.5],[-0.5,-0.8],[-0.7,-0.2]]],
  [80, [[-1.15,0.35],[-0.85,0.65],[-0.4,0.8],[0.1,0.6],[0.4,0.2],[0.55,-0.5],[0.8,-1.4],[0.6,-2],[0.15,-2.4],[-0.1,-2.3],[-0.3,-1.6],[-0.4,-0.9],[-0.6,-0.15]]],
  [90, [[-1,0.35],[-0.8,0.6],[-0.4,0.7],[0.05,0.55],[0.35,0.2],[0.5,-0.5],[0.75,-1.3],[0.55,-1.8],[0.1,-2],[-0.05,-1.7],[-0.25,-1.1],[-0.45,-0.3]]],
  [100, [[-0.9,0.3],[-0.6,0.55],[-0.1,0.5],[0.3,0.1],[0.45,-0.5],[0.7,-1.2],[0.5,-1.6],[0.15,-1.7],[-0.05,-1.4],[-0.2,-0.9],[-0.4,-0.2]]],
];

const FONT = '"DejaVu Sans", sans-serif';
const PANEL_W = 325.5;
const PANEL_H = 275;
const colLeft = [49, 439.5];
const rowTop = [108, 438, 770, 1100.5];
const titleY = [92, 423, 753, 1085];

const panels = [
  { col: 0, row: 0, label: 'Present Day (104)', contours: indianPresent },
  { col: 1, row: 0, label: 'Present Day (72)', contours: pacificPresent },
  { col: 0, row: 1, label: '2xCO|  (97)', contours: indianCo2 },
  { col: 1, row: 1, label: '2xCO|  (51)', contours: pacificCo2 },
  { col: 0, row: 2, label: '+2K (125)', contours: indianWarm },
  { col: 1, row: 2, label: '+2K (84)', contours: pacificWarm },
  { col: 0, row: 3, label: '2xCO|  + 2K (63)', contours: indianBoth },
  { col: 1, row: 3, label: '2xCO|  + 2K (58)', contours: pacificBoth },
];

const colorFor = (level: number) => {
  if (level === 0) return '#ffffff';
  if (level >= 100) return overColor;
  return levelColors[levels.indexOf(level)];
};

const toRows = (pts: number[][]) => pts.map(([x, y]) => ({ x, y }));
const minus = (v: number) => String(v).replace('-', '\u2212');
const NoDot = () => <g />;

// closed curve through the scaled points (catmull-rom)
const blobPath = (p: { x: number; y: number }[]) => {
  const n = p.length;
  const at = (i: number) => p[(i + n) % n];
  let d = `M${p[0].x},${p[0].y}`;
  for (let i = 0; i < n; i++) {
    const p0 = at(i - 1);
    const p1 = at(i);
    const p2 = at(i + 1);
    const p3 = at(i + 2);
    d += `C${p1.x + (p2.x - p0.x) / 6},${p1.y + (p2.y - p0.y) / 6} ${p2.x - (p3.x - p1.x) / 6},${p2.y - (p3.y - p1.y) / 6} ${p2.x},${p2.y}`;
  }
  return `${d}Z`;
};

const filledLine = (fill: string) => (props: any) =>
  <path d={blobPath(props.points)} fill={fill} stroke="none" />;

const outlineLine = (props: any) => (
  <path
    d={`M${props.points.map((q: any) => `${q.x},${q.y}`).join('L')}Z`}
    fill="none"
    stroke="#111"
    strokeWidth={1.3}
  />
);

const tickStyle = { fontSize: 14, fill: '#222', fontFamily: FONT };

// the two end labels sit a little inside their ticks, as in the original
const XTick = ({ x, y, payload }: any) => {
  const shift = payload.value === -10 ? -3 : payload.value === 10 ? -3 : 0;
  return (
    <text x={x + shift} y={y} dy="0.71em" textAnchor="middle" {...tickStyle}>
      {minus(payload.value)}
    </text>
  );
};

const Panel = ({ contours, left, top }: { contours: Contour[]; left: number; top: number }) => (
  <div style={{ position: 'absolute', left: left - 44, top: top - 12 }}>
    <ComposedChart
      width={PANEL_W + 60}
      height={PANEL_H + 38}
      margin={{ top: 11, right: 15, bottom: 1, left: 0 }}
    >
      <XAxis
        dataKey="x"
        type="number"
        domain={[-10, 10]}
        ticks={axisTicks}
        interval={0}
        height={25}
        tickSize={-8}
        tickMargin={14}
        tick={XTick}
        tickLine={{ strokeWidth: 1 }}
        stroke="#222"
        strokeWidth={1.6}
      />
      <XAxis xAxisId="top" orientation="top" type="number" domain={[-10, 10]} ticks={axisTicks} interval={0} height={1} tickSize={-8} tick={false} tickLine={{ strokeWidth: 1 }} stroke="#222" strokeWidth={1.6} />
      <YAxis
        dataKey="y"
        type="number"
        domain={[-10, 10]}
        ticks={axisTicks}
        interval={0}
        width={44}
        tickSize={-8}
        tickMargin={17.5}
        tick={{ ...tickStyle, dy: -1 }}
        tickLine={{ strokeWidth: 1 }}
        tickFormatter={minus}
        stroke="#222"
        strokeWidth={1.6}
      />
      <YAxis yAxisId="right" orientation="right" type="number" domain={[-10, 10]} ticks={axisTicks} interval={0} width={1} tickSize={-8} tick={false} tickLine={{ strokeWidth: 1 }} stroke="#222" strokeWidth={1.6} />
      {contours.map(([level, pts], i) => (
        <Scatter
          key={i}
          data={toRows(pts)}
          line={filledLine(colorFor(level))}
          shape={NoDot}
          isAnimationActive={false}
        />
      ))}
      <Scatter data={toRows(crossX)} line={{ stroke: '#000', strokeWidth: 3.5 }} shape={NoDot} isAnimationActive={false} />
      <Scatter data={toRows(crossY)} line={{ stroke: '#000', strokeWidth: 3.8 }} shape={NoDot} isAnimationActive={false} />
    </ComposedChart>
  </div>
);

const Title = ({ text, x, y }: { text: string; x: number; y: number }) => {
  const [head, tail] = text.split('|');
  return (
    <div
      style={{
        position: 'absolute',
        left: x - 120,
        top: y - 11,
        width: 240,
        height: 22,
        lineHeight: '22px',
        textAlign: 'center',
        whiteSpace: 'pre',
        fontFamily: FONT,
        fontSize: 16.5,
        color: '#222',
      }}
    >
      {head}
      {tail !== undefined && <sub style={{ fontSize: 10, lineHeight: 0 }}>2</sub>}
      {tail}
    </div>
  );
};

const heading = (text: string, x: number) => (
  <div
    style={{
      position: 'absolute',
      left: x - 120,
      top: 5,
      width: 240,
      textAlign: 'center',
      fontFamily: FONT,
      fontSize: 21,
      letterSpacing: 0.5,
      color: '#222',
    }}
  >
    {text}
  </div>
);

const Colorbar = () => (
  <div style={{ position: 'absolute', left: 189, top: 1434 }}>
    <ComposedChart width={365} height={78} margin={{ top: 4, right: 20, bottom: 1, left: 20 }}>
      <XAxis
        dataKey="x"
        type="number"
        domain={[10, 104.66]}
        ticks={barTicks}
        interval={0}
        height={25}
        tickSize={-5}
        tickMargin={14}
        axisLine={false}
        tick={{ fontSize: 17, fill: '#222', fontFamily: FONT }}
        stroke="#111"
      />
      <XAxis xAxisId="top" orientation="top" type="number" domain={[10, 104.66]} ticks={barTicks} interval={0} height={1} tickSize={-5} axisLine={false} tick={false} stroke="#111" />
      <YAxis dataKey="y" type="number" domain={[0, 1]} width={20} hide />
      {levels.map((level, i) => (
        <ReferenceArea
          key={level}
          x1={level}
          x2={level + 5}
          y1={0}
          y2={1}
          fill={levelColors[i]}
          fillOpacity={1}
          stroke="none"
        />
      ))}
      <Scatter
        data={toRows([[100, 0], [104.66, 0.5], [100, 1]])}
        line={(props: any) => (
          <path d={`M${props.points.map((q: any) => `${q.x},${q.y}`).join('L')}Z`} fill={overColor} stroke="none" />
        )}
        shape={NoDot}
        isAnimationActive={false}
      />
      <Scatter
        data={toRows([[10, 0], [100, 0], [104.66, 0.5], [100, 1], [10, 1]])}
        line={outlineLine}
        shape={NoDot}
        isAnimationActive={false}
      />
    </ComposedChart>
  </div>
);

export default function App() {
  return (
    <div style={{ position: 'absolute', left: 0, top: 0, width: 773, height: 1512, background: '#fff', overflow: 'hidden' }}>
      {heading('south Indian', 213)}
      {heading('south Pacific', 605)}
      {panels.map((p) => (
        <div key={p.label + p.col}>
          <Panel contours={p.contours} left={colLeft[p.col]} top={rowTop[p.row]} />
          <Title text={p.label} x={colLeft[p.col] + PANEL_W / 2} y={titleY[p.row]} />
        </div>
      ))}
      <Colorbar />
      <div style={{ position: 'absolute', left: 547, top: 1463, fontFamily: FONT, fontSize: 21.5, color: '#222' }}>mm/day</div>
    </div>
  );
}
